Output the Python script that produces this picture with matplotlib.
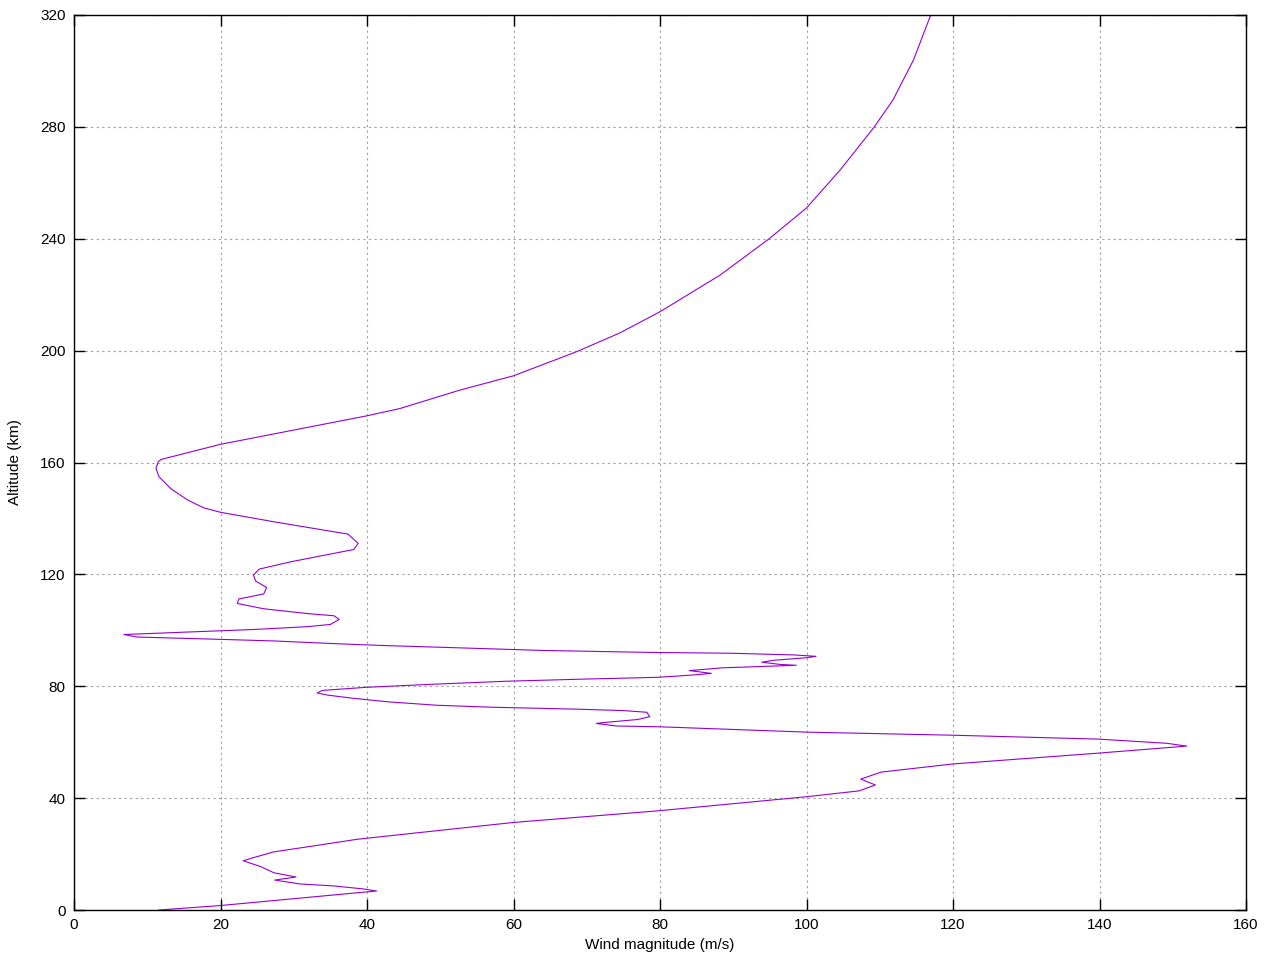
import matplotlib
matplotlib.use('Agg')
import matplotlib.pyplot as plt

# wind profile (m/s vs km)
wind = [11.6, 20.0, 41.3, 39.6, 35.5, 30.9, 27.4, 30.3, 27.3, 25.5, 23.1,
        24.6, 27.3, 31.9, 38.7, 60.0, 79.9, 100.0, 107.2, 109.4, 107.4,
        110.2, 119.9, 139.9, 151.9, 149.2, 139.9, 119.9, 100.0, 80.0, 74.0,
        71.3, 72.2, 76.9, 78.6, 78.2, 75.0, 68.8, 57.1, 49.6, 43.0, 38.1,
        34.7, 33.2, 33.9, 37.6, 39.8, 48.8, 59.1, 68.8, 79.8, 84.9, 87.0,
        84.0, 88.6, 98.6, 96.4, 93.9, 95.6, 100.0, 101.3, 98.3, 89.8, 78.6,
        64.0, 53.0, 41.8, 35.0, 27.3, 18.2, 8.6, 6.8, 13.7, 24.6, 31.8,
        35.0, 36.2, 35.5, 31.8, 25.9, 22.3, 22.5, 25.9, 26.3, 24.8, 24.5,
        25.3, 29.6, 38.2, 38.8, 37.4, 27.3, 20.0, 17.7, 15.5, 13.2, 11.6,
        11.2, 11.5, 11.9, 20.0, 40.0, 44.5, 52.7, 60.0, 68.6, 74.5, 80.0,
        88.2, 94.8, 100.0, 104.6, 109.2, 111.8, 114.6, 116.9, 117.2]
alt = [0.0, 1.6, 6.8, 7.5, 8.6, 9.3, 10.7, 11.8, 13.3, 15.5, 17.6,
       18.8, 20.8, 22.6, 25.3, 31.3, 35.5, 40.5, 42.6, 44.7, 46.8,
       49.3, 52.2, 56.1, 58.6, 59.6, 61.1, 62.5, 63.6, 65.5, 65.8,
       66.7, 67.0, 68.1, 69.1, 70.7, 71.3, 71.8, 72.5, 73.2, 74.4, 75.7,
       76.8, 77.6, 78.5, 79.2, 79.6, 80.7, 81.8, 82.5, 83.2, 84.1, 84.6,
       85.6, 86.6, 87.5, 87.8, 88.6, 89.3, 90.2, 90.7, 91.2, 91.8, 92.1,
       92.8, 93.7, 94.6, 95.3, 96.2, 96.9, 97.6, 98.5, 99.2, 100.3, 101.3,
       102.1, 103.9, 105.2, 106.0, 107.7, 109.6, 111.2, 113.0, 115.3, 117.6, 119.8,
       121.9, 124.5, 128.9, 131.1, 134.4, 138.8, 142.2, 143.8, 146.6, 150.7, 154.9,
       157.9, 160.3, 161.1, 166.5, 176.7, 179.3, 185.9, 191.0, 199.6, 206.3, 213.9,
       227.0, 239.8, 251.0, 264.6, 279.8, 289.6, 303.9, 319.6, 320.0]

xticks = list(range(0, 161, 20))
yticks = list(range(0, 321, 40))

plt.rcParams['font.family'] = ['Liberation Sans', 'DejaVu Sans']

fig = plt.figure(figsize=(12.8, 9.6), dpi=100, facecolor='w')
ax = fig.add_axes([74/1280, 1-910/960, (1246-74)/1280, (910-15)/960])

ax.plot(wind, alt, color='#9400d3', lw=0.8)

ax.set_xlim(0, 160)
ax.set_ylim(0, 320)
ax.set_xticks(xticks)
ax.set_yticks(yticks)
ax.grid(True, color='#a0a0a0', linestyle=(0, (2, 3)), lw=0.8)
ax.tick_params(direction='in', length=8, width=1, top=True, right=True,
               labelsize=11, pad=6)
for s in ax.spines.values():
    s.set_linewidth(1)

ax.set_xlabel('Wind magnitude (m/s)', fontsize=11, labelpad=4)
ax.set_ylabel('Altitude (km)', fontsize=11, labelpad=13)

fig.savefig('out.png', dpi=100)
plt.close(fig)
